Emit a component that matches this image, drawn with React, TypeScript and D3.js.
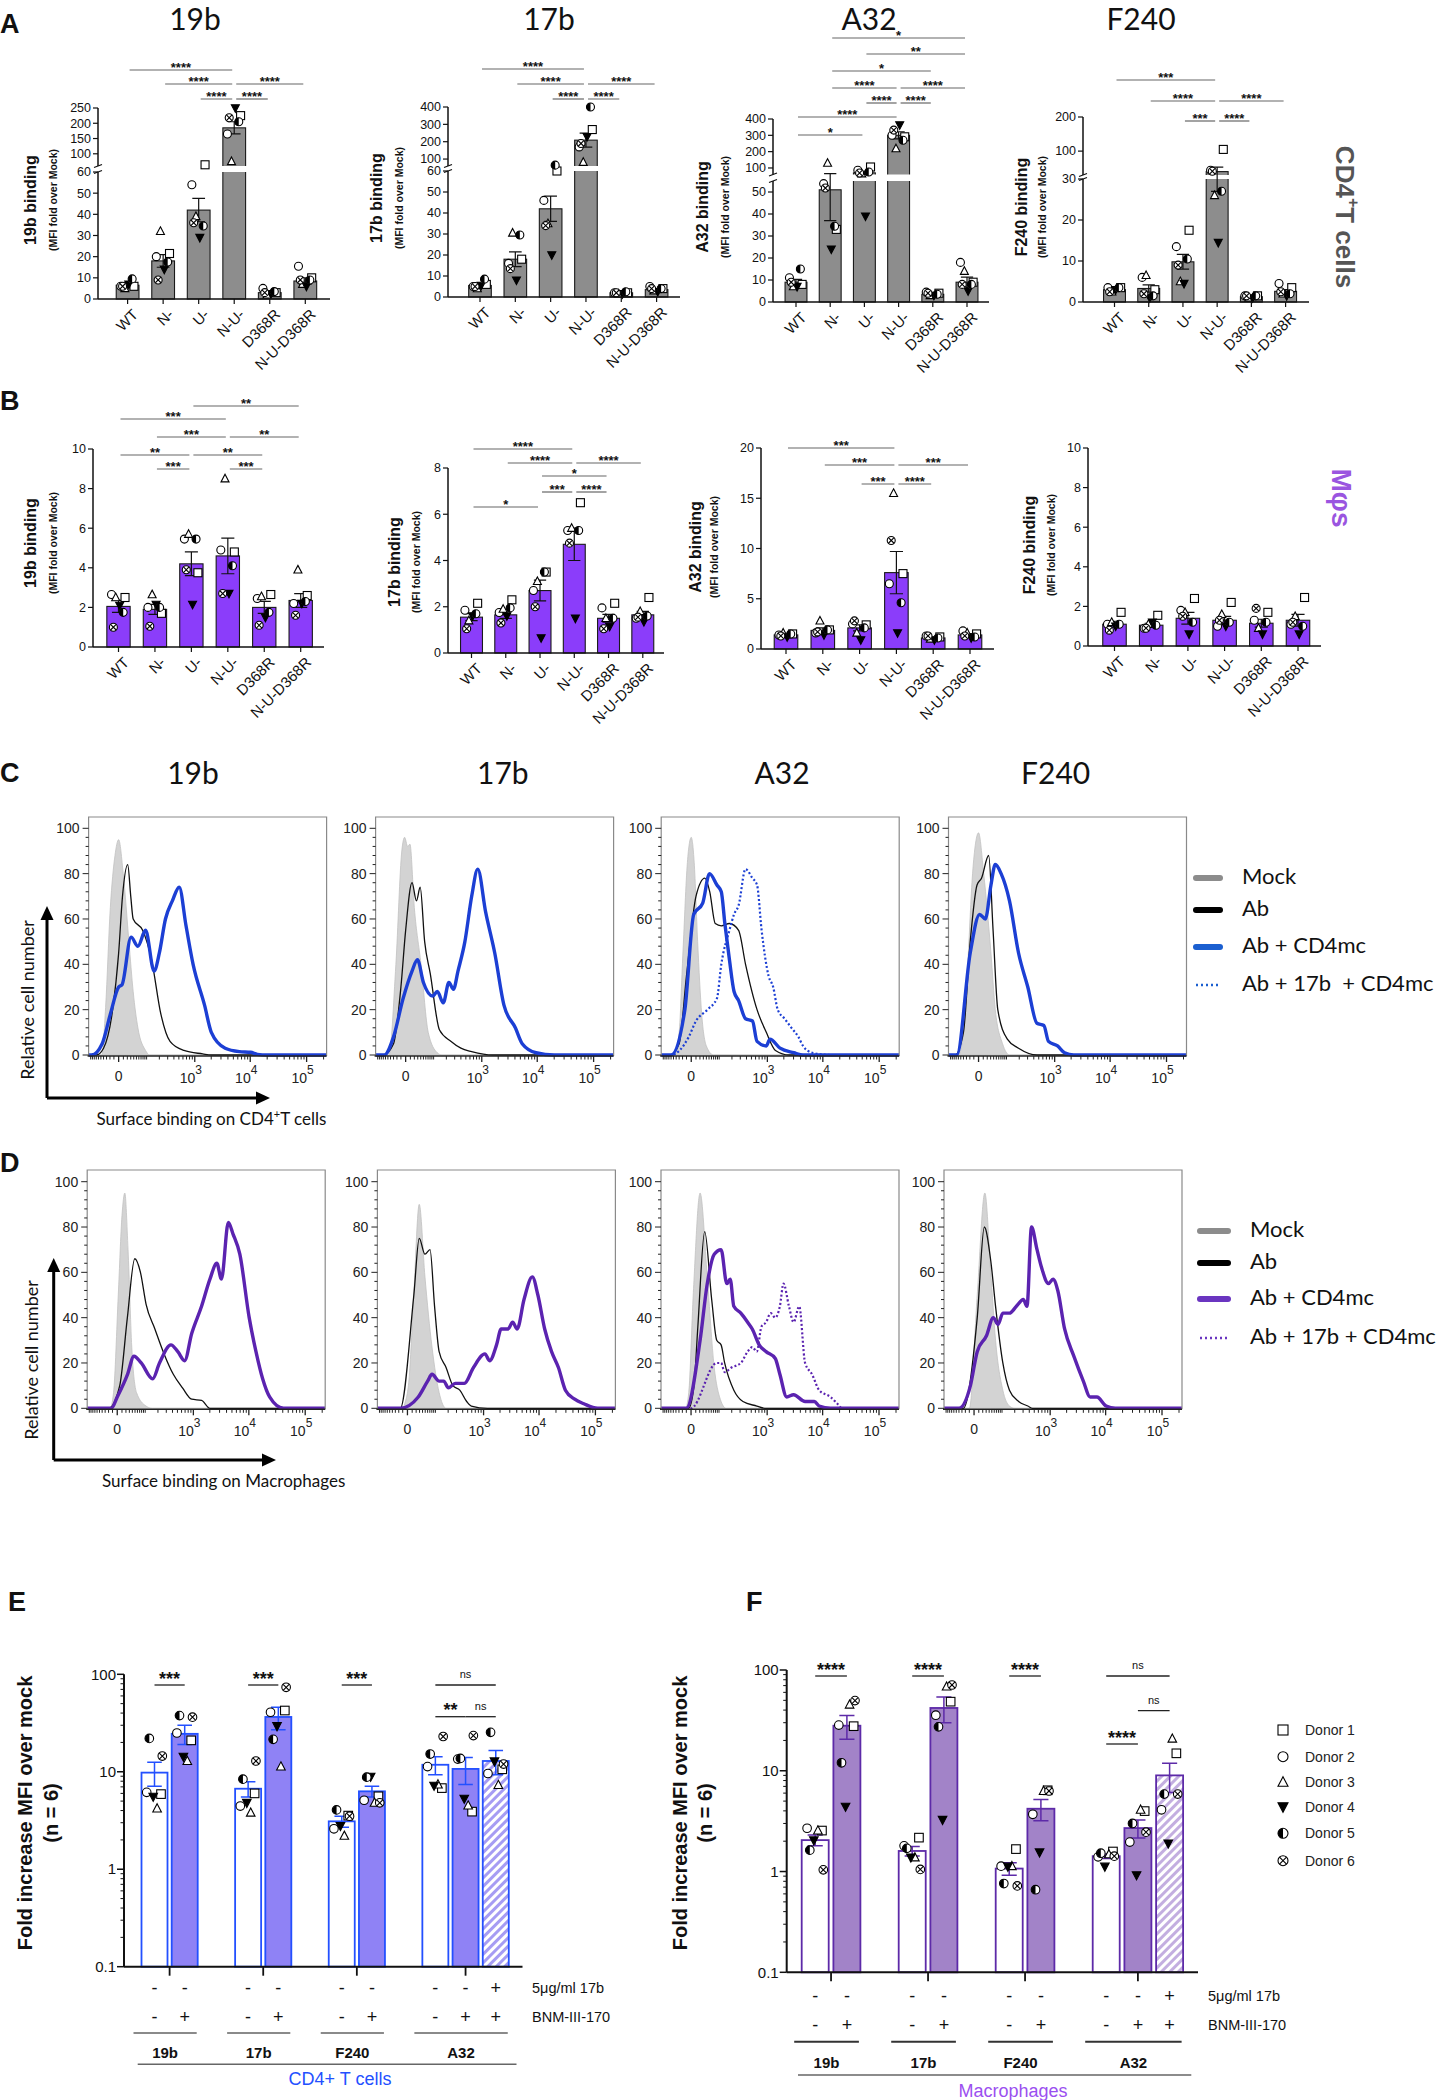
import React from "react";
import * as d3 from "d3";

// ---------------- DATA ----------------
const CONSTRUCTS = ["WT", "N-", "U-", "N-U-", "D368R", "N-U-D368R"];
const ANTIBODIES = ["19b", "17b", "A32", "F240"];
const DONORS = ["Donor 1", "Donor 2", "Donor 3", "Donor 4", "Donor 5", "Donor 6"];
const DONOR_SYMBOLS = ["square", "circle", "triangle", "triangleDown", "halfCircle", "crossCircle"];

// Panel A (CD4+ T cells), mean / SEM / per-donor values per construct
const A_19B_MEAN = [6.5, 18, 42, 185, 3, 8.5];
const A_19B_SEM = [1, 3, 5.5, 20, 0.6, 1.5];
const A_19B_PTS = [
  [6, 6, 5, 7, 9.5, 6],
  [21.5, 20, 32, 14, 17.5, 9],
  [64, 54, 39, 29, 34.5, 36],
  [225, 165, 75, 250, 205, 218],
  [3, 5, 2, 2.5, 3.5, 3],
  [10, 15.5, 7, 6, 9, 9],
];
const A_19B_SIG = [[0, 3, "****", 0], [1, 3, "****", 1], [3, 5, "****", 1], [2, 3, "****", 2], [3, 4, "****", 2]];

const A_17B_MEAN = [5.5, 18, 42, 209, 2, 3.5];
const A_17B_SEM = [1, 3.5, 6, 40, 0.2, 0.5];
const A_17B_PTS = [
  [6, 5, 4, 5.5, 8.5, 5],
  [18, 16, 30.5, 8, 29.5, 13.5],
  [60, 46, 35, 20, 65, 34],
  [270, 170, 82, 229, 400, 190],
  [2, 2, 1.5, 1.5, 2.5, 2],
  [4, 5, 3, 2.5, 4, 4],
];
const A_17B_SIG = [[0, 3, "****", 0], [1, 3, "****", 1], [3, 5, "****", 1], [2, 3, "****", 2], [3, 4, "****", 2]];

const A_A32_MEAN = [9, 51, 70, 300, 3.5, 9];
const A_A32_SEM = [1.3, 14, 9, 22, 0.4, 2.3];
const A_A32_PTS = [
  [8, 11, 7, 7, 15, 9],
  [33, 53.8, 130, 24, 34.4, 51.8],
  [106, 86, 65, 39, 75, 69],
  [291, 300, 219, 363, 270, 332],
  [4, 4.5, 3, 3, 3.5, 4],
  [9, 18, 14, 5, 8, 8],
];
const A_A32_SIG = [
  [1, 5, "*", 0], [2, 5, "**", 1], [1, 4, "*", 2], [1, 3, "****", 3], [3, 5, "****", 3],
  [2, 3, "****", 4], [3, 4, "****", 4], [0, 3, "****", 5], [0, 2, "*", 6],
];

const A_F240_MEAN = [3, 3.3, 9.8, 40, 1.3, 2.6];
const A_F240_SEM = [0.35, 0.9, 1.8, 13, 0.15, 0.4];
const A_F240_PTS = [
  [3.5, 3.5, 2.5, 3, 3.5, 2.5],
  [3, 6, 6.5, 1, 1.5, 2],
  [17.5, 13.5, 5, 4.5, 10.5, 9],
  [105, 44, 26, 14.5, 27, 41],
  [1.5, 1.5, 1, 1, 1.5, 1.5],
  [3.5, 4.5, 2, 1.5, 2, 2.5],
];
const A_F240_SIG = [[0, 3, "***", 0], [1, 3, "****", 1], [3, 5, "****", 1], [2, 3, "***", 2], [3, 4, "****", 2]];

// Panel B (macrophages)
const B_19B_MEAN = [2.05, 1.9, 4.2, 4.6, 2.0, 2.35];
const B_19B_SEM = [0.3, 0.25, 0.6, 0.9, 0.3, 0.35];
const B_19B_PTS = [
  [2.5, 2.65, 2.5, 2.1, 1.75, 1.0],
  [1.7, 2.0, 2.65, 2.15, 2.0, 1.05],
  [3.75, 5.45, 5.7, 2.15, 5.45, 3.9],
  [4.8, 4.9, 8.5, 2.7, 4.1, 2.7],
  [2.65, 2.45, 2.55, 1.5, 1.75, 1.1],
  [2.6, 2.2, 3.9, 2.2, 2.3, 1.6],
];
const B_19B_SIG = [
  [2, 5, "**", 0], [0, 3, "***", 1], [1, 3, "***", 2], [3, 5, "**", 2],
  [0, 2, "**", 3], [2, 4, "**", 3], [1, 2, "***", 4], [3, 4, "***", 4],
];

const B_17B_MEAN = [1.55, 1.65, 2.7, 4.7, 1.5, 1.65];
const B_17B_SEM = [0.15, 0.15, 0.45, 0.7, 0.17, 0.15];
const B_17B_PTS = [
  [2.15, 1.85, 1.4, 1.6, 1.7, 1.05],
  [2.3, 1.75, 1.9, 1.6, 1.95, 1.3],
  [3.5, 2.7, 3.1, 0.65, 3.5, 2.0],
  [6.5, 5.3, 5.4, 1.5, 5.3, 4.75],
  [2.15, 1.95, 1.5, 1.15, 1.5, 1.05],
  [2.4, 1.5, 1.8, 1.35, 1.6, 1.55],
];
const B_17B_SIG = [
  [0, 3, "****", 0], [1, 3, "****", 1], [3, 5, "****", 1], [2, 4, "*", 2],
  [2, 3, "***", 3], [3, 4, "****", 3], [0, 2, "*", 4],
];

const B_A32_MEAN = [1.4, 1.85, 2.1, 7.6, 1.1, 1.4];
const B_A32_SEM = [0.1, 0.25, 0.3, 2.1, 0.07, 0.12];
const B_A32_PTS = [
  [1.5, 1.4, 1.6, 1.2, 1.5, 1.3],
  [1.9, 1.6, 2.8, 1.4, 1.9, 1.7],
  [2.4, 2.5, 1.6, 0.9, 2.1, 2.8],
  [7.5, 6.5, 15.5, 1.6, 4.6, 10.8],
  [1.2, 1.3, 1.0, 0.9, 1.1, 1.3],
  [1.5, 1.8, 1.6, 1.1, 1.2, 1.3],
];
const B_A32_SIG = [[0, 3, "***", 0], [1, 3, "***", 1], [3, 5, "***", 1], [2, 3, "***", 2], [3, 4, "****", 2]];

const B_F240_MEAN = [1.1, 1.05, 1.4, 1.3, 1.15, 1.3];
const B_F240_SEM = [0.15, 0.1, 0.3, 0.2, 0.2, 0.3];
const B_F240_PTS = [
  [1.7, 1.1, 1.2, 1.0, 1.1, 0.8],
  [1.55, 0.9, 1.1, 1.2, 1.05, 0.9],
  [2.4, 1.8, 1.7, 0.6, 1.2, 1.5],
  [2.2, 1.0, 1.6, 1.0, 1.2, 1.3],
  [1.7, 1.3, 0.9, 0.6, 1.2, 1.9],
  [2.45, 1.1, 1.5, 0.6, 1.0, 1.2],
];
const B_F240_SIG: any[] = [];

// Panels C / D: flow histograms, [fluorescence intensity, relative cell number]
const C_19B_MOCK = [[-46, 0], [-33, 21], [-19, 65], [-7.6, 88], [0, 95], [9.7, 80], [24.5, 50], [38, 28], [56, 12], [94, 2], [119, 0]];
const C_19B_AB = [[-70, 0], [-40, 3], [-13, 20], [0, 45], [8, 70], [21, 84], [30, 70], [38, 60], [78, 55], [133, 42], [216, 18], [335, 6], [625, 2], [1400, 0.5], [2000, 0]];
const C_19B_CD4 = [[-95, 0], [-45, 5], [-19, 18], [0, 30], [7, 31], [31, 52], [56, 48], [94, 55], [152, 37], [200, 45], [270, 60], [373, 68], [508, 74], [686, 57], [931, 40], [1513, 22], [2010, 10], [3570, 3], [6400, 1.5], [10150, 1.2], [13400, 0.3], [20000, 0]];

const C_17B_MOCK = [[-46, 0], [-23, 40], [-8, 90], [-2, 96], [4, 92], [9, 93], [20, 65], [41, 40], [71, 10], [124, 1], [160, 0]];
const C_17B_AB = [[-70, 0], [-30, 5], [-10, 30], [0, 55], [14, 76], [26, 68], [38, 74], [55, 50], [81, 36], [140, 11], [253, 6], [400, 3], [647, 1.5], [1570, 0]];
const C_17B_CD4 = [[-65, 0], [-30, 8], [-5, 25], [14, 37], [29, 42], [50, 32], [95, 26], [124, 28], [171, 23], [227, 32], [283, 29], [350, 37], [479, 50], [647, 70], [842, 82], [1180, 63], [1730, 45], [2540, 22], [4070, 12], [5400, 5], [9540, 1], [20000, 0]];

const C_A32_MOCK = [[-46, 0], [-30, 10], [-19, 45], [-8, 85], [0, 96], [6, 85], [14, 50], [25, 18], [40, 4], [70, 0]];
const C_A32_AB = [[-65, 0], [-30, 5], [-10, 35], [10, 70], [35, 78], [53, 72], [78, 58], [113, 57], [176, 58], [277, 55], [383, 40], [640, 20], [955, 10], [1410, 2], [2500, 0]];
const C_A32_CD4 = [[-60, 0], [-14, 20], [5, 62], [28, 67], [52, 80], [87, 75], [113, 72], [138, 58], [176, 42], [222, 28], [277, 24], [383, 16], [523, 15], [640, 6], [955, 4], [1115, 7], [1710, 3], [3030, 1], [4430, 0]];
const C_A32_17B = [[-60, 0], [-5, 8], [10, 15], [44, 20], [87, 25], [113, 40], [176, 55], [222, 62], [277, 66], [383, 82], [523, 78], [640, 75], [781, 55], [1050, 35], [1280, 30], [1550, 20], [2070, 16], [2745, 12], [3660, 8], [4430, 4], [6480, 1], [13800, 0]];

const C_F240_MOCK = [[-60, 0], [-40, 10], [-26, 40], [-13, 80], [0, 98], [11, 80], [31, 45], [46, 20], [78, 5], [120, 0]];
const C_F240_AB = [[-76, 0], [-40, 10], [-19, 50], [-3, 75], [6, 78], [24, 88], [38, 55], [56, 20], [105, 7], [193, 3], [461, 0]];
const C_F240_CD4 = [[-67, 0], [-19, 45], [2, 62], [15, 60], [31, 75], [46, 84], [71, 80], [119, 68], [193, 45], [303, 30], [461, 14], [627, 13], [767, 6], [1130, 4], [1520, 1], [2230, 0]];

const D_19B_MOCK = [[-16, 0], [-7.6, 7], [2, 50], [10, 85], [17, 95], [26, 70], [38, 27], [56, 7], [105, 1], [150, 0]];
const D_19B_AB = [[-20, 0], [5, 10], [24, 40], [49, 66], [74, 60], [105, 46], [171, 35], [270, 24], [415, 15], [625, 9], [931, 4], [1415, 3.5], [2010, 0]];
const D_19B_CD4 = [[-13, 0], [0, 5], [24.5, 15], [46, 23], [78, 20], [152, 13], [216, 20], [373, 28], [508, 25], [686, 21], [931, 33], [1415, 45], [2010, 57], [2680, 64], [3240, 57], [4310, 82], [5210, 77], [6910, 68], [10150, 40], [13400, 25], [17600, 13], [23400, 5], [41200, 0]];

const D_17B_MOCK = [[-10, 0], [-5.5, 2], [3.6, 14], [14, 51], [29, 90], [49, 58], [81, 27], [124, 7], [180, 0]];
const D_17B_AB = [[-16, 0], [14, 50], [29, 75], [49, 68], [71, 70], [95, 45], [124, 25], [180, 18], [253, 10], [350, 8], [479, 3], [587, 1], [1180, 0]];
const D_17B_CD4 = [[-16, 0], [26, 5], [60, 12], [81, 15], [124, 12], [159, 12], [203, 9], [283, 11], [432, 11], [647, 18], [1060, 24], [1290, 21], [1730, 28], [2100, 35], [2790, 35], [3380, 38], [4070, 35], [5400, 48], [7600, 58], [9540, 50], [12600, 35], [16700, 25], [22100, 18], [29400, 8], [43000, 4], [62400, 2], [109500, 0]];

const D_A32_MOCK = [[-12, 0], [-4.6, 7], [4.6, 51], [21, 95], [44, 58], [74, 18], [108, 4], [150, 0]];
const D_A32_AB = [[-5, 0], [6, 10], [15, 36], [35, 78], [62, 48], [87, 30], [113, 28], [138, 20], [222, 8], [343, 3], [640, 1], [900, 0]];
const D_A32_CD4 = [[-10, 0], [21, 30], [44, 55], [74, 68], [113, 70], [155, 55], [185, 57], [222, 45], [311, 42], [425, 38], [523, 35], [709, 28], [955, 25], [1410, 22], [1710, 15], [2280, 5], [3030, 6], [4870, 3], [7120, 3], [8660, 1], [13800, 0]];
const D_A32_17B = [[0, 0], [87, 20], [113, 20], [138, 16], [198, 18], [311, 20], [425, 25], [523, 27], [640, 25], [781, 36], [955, 38], [1160, 42], [1410, 40], [1710, 45], [1990, 55], [2500, 45], [3030, 38], [3820, 45], [4870, 20], [6480, 15], [8660, 8], [13800, 5], [18300, 2], [22000, 0]];

const D_F240_MOCK = [[-10, 0], [6.5, 50], [26, 95], [46, 60], [66, 30], [105, 8], [152, 1], [200, 0]];
const D_F240_AB = [[-26, 0], [6.5, 40], [24.5, 80], [46, 65], [66, 45], [105, 20], [152, 8], [242, 3], [375, 1], [461, 0]];
const D_F240_CD4 = [[-40, 0], [-7.5, 10], [6.5, 25], [31, 32], [56, 40], [78, 37], [105, 42], [152, 42], [217, 45], [303, 48], [360, 45], [442, 80], [566, 70], [692, 62], [932, 55], [1130, 57], [1380, 52], [1840, 35], [2700, 23], [4000, 12], [5300, 5], [7000, 5], [10200, 1], [14900, 0]];

const LEGEND_C = ["Mock", "Ab", "Ab + CD4mc", "Ab + 17b  + CD4mc"];
const LEGEND_D = ["Mock", "Ab", "Ab + CD4mc", "Ab + 17b + CD4mc"];

// Panels E / F
const EF_GROUPS = ["19b", "17b", "F240", "A32"];
const EF_BAR_GROUP = ["19b", "19b", "17b", "17b", "F240", "F240", "A32", "A32", "A32"];
const EF_17B = ["-", "-", "-", "-", "-", "-", "-", "-", "+"];
const EF_BNM = ["-", "+", "-", "+", "-", "+", "-", "+", "+"];

const E_MEAN = [9.8, 24.5, 6.7, 36.5, 3.1, 6.3, 11.8, 10.7, 12.9];
const E_SEM = [2.7, 5.5, 1.2, 9.5, 0.4, 0.8, 2.5, 3.3, 3.6];
const E_PTS = [
  [5.9, 6.15, 4.2, 5.55, 22, 14.5],
  [21, 25, 12.9, 14.3, 37.7, 36.3],
  [6.0, 4.45, 3.8, 4.8, 8.4, 12.9],
  [42.5, 40.8, 11.3, 29.5, 21.5, 73.6],
  [3.55, 2.6, 2.2, 2.78, 4.06, 3.5],
  [5.6, 5.1, 4.8, 8.9, 8.8, 4.8],
  [6.8, 11.3, 7.4, 7.2, 15.2, 23],
  [3.9, 13.5, 4.5, 5.3, 13.7, 23.5],
  [10.6, 9.6, 7.3, 12.8, 25.4, 12],
];
const E_SIG = [[0, 1, "***", 0], [2, 3, "***", 0], [4, 5, "***", 0], [6, 8, "ns", 0], [6, 7, "**", 1], [7, 8, "ns", 1]];

const F_MEAN = [2.05, 28, 1.6, 42, 1.07, 4.2, 1.42, 2.7, 9.0];
const F_SEM = [0.25, 7.4, 0.17, 12, 0.15, 1.0, 0.07, 0.55, 2.9];
const F_PTS = [
  [2.55, 2.69, 2.55, 2.04, 1.63, 1.04],
  [27.7, 28.4, 45.3, 4.4, 12.0, 49.7],
  [2.17, 1.8, 1.38, 1.38, 1.7, 1.05],
  [48.5, 35.6, 68.4, 3.26, 27.3, 71],
  [1.67, 1.13, 1.13, 1.12, 0.76, 0.72],
  [6.4, 3.7, 6.3, 1.55, 0.66, 6.3],
  [1.58, 1.4, 1.48, 1.12, 1.52, 1.42],
  [3.98, 1.96, 4.1, 0.92, 3.0, 2.46],
  [14.9, 4.1, 20.8, 1.9, 5.87, 5.87],
];
const F_SIG = [[0, 1, "****", 0], [2, 3, "****", 0], [4, 5, "****", 0], [6, 8, "ns", 0], [7, 8, "ns", 1], [6, 7, "****", 2]];

// ---------------- STYLE / LAYOUT ----------------
const F_SANS = "'Liberation Sans', Arial, Helvetica, sans-serif";
const F_NARROW = "'Liberation Sans Narrow', 'Arial Narrow', 'Liberation Sans', Arial, sans-serif";
const F_CAL = "Lato, 'Open Sans', 'Noto Sans', sans-serif";

const JITTER_AB = [0.28, -0.3, -0.12, 0.05, 0.2, -0.22];
const JITTER_EF = [0.25, -0.3, 0.1, -0.05, -0.2, 0.3];

const LAYOUT_A: any = {
  "19b": { axisX: 98, axisEnd: 330, c0: 127.6, c5: 305.3, lowerDomain: [0, 60], lowerRange: [299, 172], upperDomain: [60, 250], upperRange: [166, 108], lowerTicks: [0, 10, 20, 30, 40, 50, 60], upperTicks: [100, 150, 200, 250], rows: [70, 84, 99], titleX: 195, ylabX: 30, ysubX: 53, ylabY: 200 },
  "17b": { axisX: 448, axisEnd: 680, c0: 480, c5: 656.6, lowerDomain: [0, 60], lowerRange: [297, 171], upperDomain: [60, 400], upperRange: [166, 107], lowerTicks: [0, 10, 20, 30, 40, 50, 60], upperTicks: [100, 200, 300, 400], rows: [69, 84, 99], titleX: 549, ylabX: 376.5, ysubX: 398.5, ylabY: 198 },
  "A32": { axisX: 773, axisEnd: 989, c0: 796, c5: 967, lowerDomain: [0, 55], lowerRange: [302, 181], upperDomain: [60, 400], upperRange: [174.5, 119], lowerTicks: [0, 10, 20, 30, 40, 50], upperTicks: [100, 200, 300, 400], rows: [38, 54, 71, 88, 103, 117, 135], titleX: 869, ylabX: 702.5, ysubX: 724.6, ylabY: 207 },
  "F240": { axisX: 1083, axisEnd: 1309, c0: 1114.5, c5: 1285.6, lowerDomain: [0, 30], lowerRange: [302, 179], upperDomain: [30, 200], upperRange: [175, 117], lowerTicks: [0, 10, 20, 30], upperTicks: [100, 200], rows: [80, 101, 121], titleX: 1141, ylabX: 1021, ysubX: 1042, ylabY: 207 },
};
const LAYOUT_B: any = {
  "19b": { axisX: 93, axisEnd: 324, c0: 118.5, c5: 300.7, lowerDomain: [0, 10], lowerRange: [647, 449], lowerTicks: [0, 2, 4, 6, 8, 10], rows: [406, 419, 437, 455, 469], ylabX: 30, ysubX: 53, ylabY: 543 },
  "17b": { axisX: 448, axisEnd: 664, c0: 471.5, c5: 642.8, lowerDomain: [0, 8], lowerRange: [653, 468], lowerTicks: [0, 2, 4, 6, 8], rows: [449, 463, 476, 492, 507], ylabX: 394, ysubX: 415.5, ylabY: 562 },
  "A32": { axisX: 761, axisEnd: 994, c0: 786, c5: 970, lowerDomain: [0, 20], lowerRange: [649, 448], lowerTicks: [0, 5, 10, 15, 20], rows: [448, 465, 484], ylabX: 695.6, ysubX: 714, ylabY: 547 },
  "F240": { axisX: 1088, axisEnd: 1321, c0: 1114.5, c5: 1298, lowerDomain: [0, 10], lowerRange: [646, 448], lowerTicks: [0, 2, 4, 6, 8, 10], rows: [], ylabX: 1029, ysubX: 1051, ylabY: 545 },
};

const A_DATA: any = {
  "19b": [A_19B_MEAN, A_19B_SEM, A_19B_PTS, A_19B_SIG],
  "17b": [A_17B_MEAN, A_17B_SEM, A_17B_PTS, A_17B_SIG],
  "A32": [A_A32_MEAN, A_A32_SEM, A_A32_PTS, A_A32_SIG],
  "F240": [A_F240_MEAN, A_F240_SEM, A_F240_PTS, A_F240_SIG],
};
const B_DATA: any = {
  "19b": [B_19B_MEAN, B_19B_SEM, B_19B_PTS, B_19B_SIG],
  "17b": [B_17B_MEAN, B_17B_SEM, B_17B_PTS, B_17B_SIG],
  "A32": [B_A32_MEAN, B_A32_SEM, B_A32_PTS, B_A32_SIG],
  "F240": [B_F240_MEAN, B_F240_SEM, B_F240_PTS, B_F240_SIG],
};

const C_CURVES = [
  { mock: C_19B_MOCK, ab: C_19B_AB, cd4: C_19B_CD4 },
  { mock: C_17B_MOCK, ab: C_17B_AB, cd4: C_17B_CD4 },
  { mock: C_A32_MOCK, ab: C_A32_AB, cd4: C_A32_CD4, dotted: C_A32_17B },
  { mock: C_F240_MOCK, ab: C_F240_AB, cd4: C_F240_CD4 },
];
const D_CURVES = [
  { mock: D_19B_MOCK, ab: D_19B_AB, cd4: D_19B_CD4 },
  { mock: D_17B_MOCK, ab: D_17B_AB, cd4: D_17B_CD4 },
  { mock: D_A32_MOCK, ab: D_A32_AB, cd4: D_A32_CD4, dotted: D_A32_17B },
  { mock: D_F240_MOCK, ab: D_F240_AB, cd4: D_F240_CD4 },
];

const FLOW_W = 238;
const C_LAYOUT = { lefts: [88.6, 375.6, 661.2, 948.5], top: 817, y0: 1055, y100: 828.3, titleXs: [193, 502.8, 782, 1055.7], titleY: 784 };
const D_LAYOUT = { lefts: [87.2, 377.4, 661, 944], top: 1170, y0: 1408.3, y100: 1181.7 };

const E_LAYOUT = { x0: 154.5, slot: 30.2, stride: 3.1, bw: 26, axisX: 124, axisEnd: 522.5, y01: 1966.7, y100: 1674.3, rows: [1685, 1716.7], signY: [1993.5, 2022.5], labelX: 532, underY: 2033, groupY: 2058, bottomY: 2064.3, bottom: [137.7, 516.5], cell: "CD4+ T cells", cellX: 340, cellY: 2085, ylabX: 25, ysubX: 50.5, ylabY: 1813, underColor: "#8a8a8a" };
const F_LAYOUT = { x0: 815.2, slot: 31.7, stride: 3.06, bw: 27, axisX: 786.7, axisEnd: 1198, y01: 1972.3, y100: 1670, rows: [1676, 1710.7, 1744], signY: [2002, 2031], labelX: 1208, underY: 2041.7, groupY: 2068, bottomY: 2075, bottom: [798, 1191.3], cell: "Macrophages", cellX: 1013, cellY: 2097, ylabX: 679.5, ysubX: 704.8, ylabY: 1813, underColor: "#333" };

const TH_E = { stroke: "#2350ff", fill: "#8f82f5", hatch: "hatchE", text: "#2350ff" };
const TH_F = { stroke: "#5d2aa8", fill: "#a283c8", hatch: "hatchF", text: "#9b4ff0" };

// ---------------- COMPONENTS ----------------
function Sym({ kind, x, y, r = 4.2 }: any) {
  const sw = 1.1;
  if (kind === "square") return <rect x={x - r} y={y - r} width={2 * r} height={2 * r} fill="#fff" stroke="#000" strokeWidth={sw} />;
  if (kind === "circle") return <circle cx={x} cy={y} r={r} fill="#fff" stroke="#000" strokeWidth={sw} />;
  if (kind === "triangle") return <path d={`M${x},${y - r * 1.1}L${x + r},${y + r * 0.8}L${x - r},${y + r * 0.8}Z`} fill="#fff" stroke="#000" strokeWidth={sw} />;
  if (kind === "triangleDown") return <path d={`M${x - r},${y - r * 0.8}L${x + r},${y - r * 0.8}L${x},${y + r * 1.1}Z`} fill="#000" stroke="#000" strokeWidth={sw} />;
  if (kind === "halfCircle")
    return (
      <g>
        <circle cx={x} cy={y} r={r} fill="#fff" stroke="#000" strokeWidth={sw} />
        <path d={`M${x},${y - r}A${r},${r} 0 0 0 ${x},${y + r}Z`} fill="#000" />
      </g>
    );
  const k = r * 0.7;
  return (
    <g>
      <circle cx={x} cy={y} r={r} fill="#fff" stroke="#000" strokeWidth={sw} />
      <path d={`M${x - k},${y - k}L${x + k},${y + k}M${x + k},${y - k}L${x - k},${y + k}`} stroke="#000" strokeWidth={sw} />
    </g>
  );
}

function BarPanel({ L, data, fill, name }: any) {
  const [mean, sem, pts, sig] = data;
  const xs = d3.scalePoint<string>().domain(CONSTRUCTS).range([L.c0, L.c5]);
  const bw = xs.step() * 0.64;
  const lower = d3.scaleLinear().domain(L.lowerDomain).range(L.lowerRange);
  const upper = L.upperDomain ? d3.scaleLinear().domain(L.upperDomain).range(L.upperRange) : null;
  const lMax = L.lowerDomain[1];
  const yPos = (v: number) => {
    if (!upper || v <= lMax) return lower(v);
    if (v >= L.upperDomain[0]) return upper(v);
    const t = (v - lMax) / (L.upperDomain[0] - lMax);
    return lower(lMax) + t * (upper(L.upperDomain[0]) - lower(lMax));
  };
  const y0 = lower(0);
  const ax = L.axisX;
  return (
    <g>
      {mean.map((m: number, i: number) => {
        const cx = xs(CONSTRUCTS[i])!;
        return <rect key={"b" + i} x={cx - bw / 2} y={yPos(m)} width={bw} height={y0 - yPos(m)} fill={fill} stroke="#1a1a1a" strokeWidth={1.1} />;
      })}
      {upper && (
        <rect x={ax + 1} y={upper(L.upperDomain[0])} width={L.axisEnd - ax} height={lower(lMax) - upper(L.upperDomain[0])} fill="#fff" />
      )}
      {mean.map((m: number, i: number) => {
        const cx = xs(CONSTRUCTS[i])!;
        const a = yPos(Math.max(0, m - sem[i]));
        const b = yPos(m + sem[i]);
        const c = bw * 0.28;
        return (
          <path key={"e" + i} d={`M${cx},${a}L${cx},${b}M${cx - c},${a}L${cx + c},${a}M${cx - c},${b}L${cx + c},${b}`} stroke="#111" strokeWidth={1.2} fill="none" />
        );
      })}
      {pts.map((row: number[], i: number) =>
        row.map((v, d) => (
          <Sym key={`p${i}-${d}`} kind={DONOR_SYMBOLS[d]} x={xs(CONSTRUCTS[i])! + JITTER_AB[d] * bw} y={yPos(v)} r={4} />
        ))
      )}
      {/* axes */}
      <line x1={ax} x2={L.axisEnd} y1={y0} y2={y0} stroke="#111" strokeWidth={1.5} />
      <line x1={ax} x2={ax} y1={y0} y2={lower(lMax)} stroke="#111" strokeWidth={1.5} />
      {upper && (
        <g>
          <line x1={ax} x2={ax} y1={upper(L.upperDomain[0])} y2={upper(L.upperDomain[1])} stroke="#111" strokeWidth={1.5} />
          <path d={`M${ax - 4},${lower(lMax) + 1.5}L${ax + 4},${lower(lMax) - 1.5}M${ax - 4},${upper(L.upperDomain[0]) + 1.5}L${ax + 4},${upper(L.upperDomain[0]) - 1.5}`} stroke="#111" strokeWidth={1.3} />
        </g>
      )}
      {L.lowerTicks.map((t: number) => (
        <g key={"lt" + t}>
          <line x1={ax - 5} x2={ax} y1={lower(t)} y2={lower(t)} stroke="#111" strokeWidth={1.2} />
          <text x={ax - 7} y={lower(t)} dy="0.35em" textAnchor="end" fontSize={12.5} fontFamily={F_SANS} fill="#111">{t}</text>
        </g>
      ))}
      {upper && L.upperTicks.map((t: number) => (
        <g key={"ut" + t}>
          <line x1={ax - 5} x2={ax} y1={upper(t)} y2={upper(t)} stroke="#111" strokeWidth={1.2} />
          <text x={ax - 7} y={upper(t)} dy="0.35em" textAnchor="end" fontSize={12.5} fontFamily={F_SANS} fill="#111">{t}</text>
        </g>
      ))}
      {CONSTRUCTS.map((c) => (
        <g key={"x" + c}>
          <line x1={xs(c)} x2={xs(c)} y1={y0} y2={y0 + 5} stroke="#111" strokeWidth={1.2} />
          <text transform={`translate(${xs(c)! + 4},${y0 + 9}) rotate(-45)`} textAnchor="end" dy="0.7em" fontSize={15} fontFamily={F_SANS} fill="#111">{c}</text>
        </g>
      ))}
      {sig.map((s: any, k: number) => {
        const x1 = xs(CONSTRUCTS[s[0]])! + 2;
        const x2 = xs(CONSTRUCTS[s[1]])! - 2;
        const y = L.rows[s[3]];
        return (
          <g key={"s" + k}>
            <line x1={x1} x2={x2} y1={y} y2={y} stroke="#666" strokeWidth={1.2} />
            <text x={(x1 + x2) / 2} y={y + 2} textAnchor="middle" fontSize={13} fontWeight="bold" fontFamily={F_SANS} fill="#111">{s[2]}</text>
          </g>
        );
      })}
      <text transform={`translate(${L.ylabX},${L.ylabY}) rotate(-90)`} textAnchor="middle" dominantBaseline="central" fontSize={16} fontWeight="bold" fontFamily={F_SANS} fill="#111">{name} binding</text>
      <text transform={`translate(${L.ysubX},${L.ylabY}) rotate(-90)`} textAnchor="middle" dominantBaseline="central" fontSize={10.5} fontWeight="bold" fontFamily={F_SANS} fill="#111">(MFI fold over Mock)</text>
    </g>
  );
}

const FLOW_MINOR = [
  -100, -90, -80, -70, -60, -50, -40, -30, -20, -10, 10, 20, 30, 40, 50, 60, 70, 80, 90,
  100, 200, 300, 400, 500, 600, 700, 800, 900, 2000, 3000, 4000, 5000, 6000, 7000, 8000, 9000,
  20000, 30000, 40000, 50000, 60000, 70000, 80000, 90000, 200000,
];
const FLOW_MAJOR = [0, 1000, 10000, 100000];

function FlowPlot({ left, top, y0, y100, curves, color }: any) {
  const right = left + FLOW_W;
  const x = d3.scaleSymlog().constant(47).domain([-113, 226000]).range([left, right]);
  const y = d3.scaleLinear().domain([0, 100]).range([y0, y100]);
  const ext = (a: number[][]) => [[-113, 0], ...a, [226000, 0]] as [number, number][];
  const line = d3.line<[number, number]>().x((d) => x(d[0])).y((d) => y(d[1])).curve(d3.curveMonotoneX);
  const area = d3.area<[number, number]>().x((d) => x(d[0])).y0(y(0)).y1((d) => y(d[1])).curve(d3.curveMonotoneX);
  const id = `fc${Math.round(left)}_${Math.round(top)}`;
  const yMinor = d3.range(0, 101, 4);
  return (
    <g>
      <defs>
        <clipPath id={id}>
          <rect x={left} y={top} width={FLOW_W} height={y0 - top + 3} />
        </clipPath>
      </defs>
      <g clipPath={`url(#${id})`}>
        <path d={area(ext(curves.mock))!} fill="#d3d3d3" stroke="#c2c2c2" strokeWidth={0.8} />
        <path d={line(ext(curves.ab))!} fill="none" stroke="#111" strokeWidth={1.3} />
        {curves.dotted && <path d={line(ext(curves.dotted))!} fill="none" stroke={color} strokeWidth={2.2} strokeDasharray="2,2.2" />}
        <path d={line(ext(curves.cd4))!} fill="none" stroke={color} strokeWidth={3.4} strokeLinejoin="round" />
      </g>
      <path d={`M${left},${y0 + 1}L${left},${top}L${right},${top}L${right},${y0 + 1}`} fill="none" stroke="#8a8a8a" strokeWidth={1.2} />
      <line x1={left - 1} x2={right} y1={y0 + 1} y2={y0 + 1} stroke="#222" strokeWidth={1.6} />
      {yMinor.map((t) => (
        <line key={"ym" + t} x1={left - (t % 20 === 0 ? 6 : 3)} x2={left} y1={y(t)} y2={y(t)} stroke="#222" strokeWidth={1} />
      ))}
      {[0, 20, 40, 60, 80, 100].map((t) => (
        <text key={"yl" + t} x={left - 9} y={y(t)} dy="0.35em" textAnchor="end" fontSize={14} fontFamily={F_NARROW} fill="#222">{t}</text>
      ))}
      {FLOW_MINOR.map((t) => (
        <line key={"xm" + t} x1={x(t)} x2={x(t)} y1={y0 + 1} y2={y0 + 4.5} stroke="#222" strokeWidth={1} />
      ))}
      {FLOW_MAJOR.map((t) => (
        <line key={"xM" + t} x1={x(t)} x2={x(t)} y1={y0 + 1} y2={y0 + 7} stroke="#222" strokeWidth={1.3} />
      ))}
      {FLOW_MAJOR.map((t, i) =>
        t === 0 ? (
          <text key={"xl" + t} x={x(t)} y={y0 + 26} textAnchor="middle" fontSize={14} fontFamily={F_NARROW} fill="#222">0</text>
        ) : (
          <text key={"xl" + t} x={x(t) - 4} y={y0 + 28} textAnchor="middle" fontSize={14} fontFamily={F_NARROW} fill="#222">
            10<tspan dy={-9} fontSize={12}>{i + 2}</tspan>
          </text>
        )
      )}
    </g>
  );
}

function FlowLegend({ x1, x2, tx, rows, labels, color }: any) {
  const styles = [
    { stroke: "#8c8c8c", w: 6, dash: undefined },
    { stroke: "#000", w: 6, dash: undefined },
    { stroke: color, w: 6, dash: undefined },
    { stroke: color, w: 2.6, dash: "2,3" },
  ];
  return (
    <g>
      {labels.map((l: string, i: number) => (
        <g key={l}>
          <line x1={x1} x2={x2} y1={rows[i]} y2={rows[i]} stroke={styles[i].stroke} strokeWidth={styles[i].w} strokeLinecap={styles[i].dash ? "butt" : "round"} strokeDasharray={styles[i].dash} />
          <text x={tx} y={rows[i] - 3} dominantBaseline="central" fontSize={22} fontFamily={F_CAL} fill="#111" style={{ whiteSpace: "pre" }}>{l}</text>
        </g>
      ))}
    </g>
  );
}

function Arrows({ vx, yb, yt, hx }: any) {
  return (
    <g>
      <path d={`M${vx},${yb}L${vx},${yt + 10}M${vx},${yb}L${hx - 10},${yb}`} stroke="#000" strokeWidth={3} fill="none" />
      <path d={`M${vx - 6.5},${yt + 14}L${vx},${yt}L${vx + 6.5},${yt + 14}Z`} fill="#000" />
      <path d={`M${hx - 14},${yb - 6.5}L${hx},${yb}L${hx - 14},${yb + 6.5}Z`} fill="#000" />
    </g>
  );
}

function LogBarPanel({ L, mean, sem, pts, sig, th }: any) {
  const y = d3.scaleLog().domain([0.1, 100]).range([L.y01, L.y100]);
  const slot = d3.scaleLinear().domain([0, 1]).range([L.x0, L.x0 + L.slot]);
  const within = EF_BAR_GROUP.map((g, i) => EF_BAR_GROUP.slice(0, i).filter((h) => h === g).length);
  const cx = EF_BAR_GROUP.map((g, i) => slot(EF_GROUPS.indexOf(g) * L.stride + within[i]));
  const bw = L.bw;
  const y0 = y(0.1);
  const majors = [0.1, 1, 10, 100];
  const minors: number[] = [];
  [0.1, 1, 10].forEach((d) => d3.range(2, 10).forEach((k) => minors.push(k * d)));
  const groups = EF_GROUPS.map((g) => {
    const idx = EF_BAR_GROUP.map((h, i) => (h === g ? i : -1)).filter((i) => i >= 0);
    const a = cx[idx[0]], b = cx[idx[idx.length - 1]];
    return { g, a, b, mid: (a + b) / 2 };
  });
  return (
    <g>
      {mean.map((m: number, i: number) => {
        const f = EF_17B[i] === "+" ? `url(#${th.hatch})` : EF_BNM[i] === "+" ? th.fill : "#fff";
        return <rect key={"b" + i} x={cx[i] - bw / 2} y={y(m)} width={bw} height={y0 - y(m)} fill={f} stroke={th.stroke} strokeWidth={1.8} />;
      })}
      {mean.map((m: number, i: number) => {
        const a = y(m - sem[i]);
        const b = y(m + sem[i]);
        const c = bw * 0.28;
        return <path key={"e" + i} d={`M${cx[i]},${a}L${cx[i]},${b}M${cx[i] - c},${b}L${cx[i] + c},${b}M${cx[i] - c},${a}L${cx[i] + c},${a}`} stroke={th.stroke} strokeWidth={1.5} fill="none" />;
      })}
      {pts.map((row: number[], i: number) =>
        row.map((v, d) => <Sym key={`p${i}-${d}`} kind={DONOR_SYMBOLS[d]} x={cx[i] + JITTER_EF[d] * bw} y={y(v)} r={4.3} />)
      )}
      <line x1={L.axisX} x2={L.axisEnd} y1={y0} y2={y0} stroke="#111" strokeWidth={2} />
      <line x1={L.axisX} x2={L.axisX} y1={y0} y2={y(100)} stroke="#111" strokeWidth={2} />
      {minors.map((t) => <line key={"m" + t} x1={L.axisX - 3.5} x2={L.axisX} y1={y(t)} y2={y(t)} stroke="#111" strokeWidth={1} />)}
      {majors.map((t) => (
        <g key={"M" + t}>
          <line x1={L.axisX - 7} x2={L.axisX} y1={y(t)} y2={y(t)} stroke="#111" strokeWidth={1.5} />
          <text x={L.axisX - 8} y={y(t)} dy="0.35em" textAnchor="end" fontSize={15} fontFamily={F_NARROW} fill="#111">{t}</text>
        </g>
      ))}
      {groups.map((g) => (
        <line key={"gt" + g.g} x1={g.mid} x2={g.mid} y1={y0} y2={y0 + 9} stroke="#111" strokeWidth={1.8} />
      ))}
      {sig.map((s: any, k: number) => {
        const x1 = cx[s[0]], x2 = cx[s[1]];
        const yy = L.rows[s[3]];
        const ns = s[2] === "ns";
        return (
          <g key={"s" + k}>
            <line x1={x1} x2={x2} y1={yy} y2={yy} stroke="#222" strokeWidth={1.3} />
            <text x={(x1 + x2) / 2} y={ns ? yy - 7 : yy - 0.5} textAnchor="middle" fontSize={ns ? 11 : 18} fontWeight={ns ? "normal" : "bold"} fontFamily={F_SANS} fill="#111">{s[2]}</text>
          </g>
        );
      })}
      {EF_17B.map((s, i) => (
        <text key={"r1" + i} x={cx[i]} y={L.signY[0]} textAnchor="middle" fontSize={18} fontFamily={F_SANS} fill="#111">{s}</text>
      ))}
      {EF_BNM.map((s, i) => (
        <text key={"r2" + i} x={cx[i]} y={L.signY[1]} textAnchor="middle" fontSize={18} fontFamily={F_SANS} fill="#111">{s}</text>
      ))}
      <text x={L.labelX} y={L.signY[0] - 1} fontSize={14.5} fontFamily={F_NARROW} fill="#111">5μg/ml 17b</text>
      <text x={L.labelX} y={L.signY[1] - 1} fontSize={14.5} fontFamily={F_NARROW} fill="#111">BNM-III-170</text>
      {groups.map((g) => (
        <g key={"gl" + g.g}>
          <line x1={g.a - 21} x2={g.b + 12} y1={L.underY} y2={L.underY} stroke={L.underColor} strokeWidth={2} />
          <text x={(g.a - 21 + g.b + 12) / 2} y={L.groupY} textAnchor="middle" fontSize={15} fontWeight="bold" fontFamily={F_NARROW} fill="#111">{g.g}</text>
        </g>
      ))}
      <line x1={L.bottom[0]} x2={L.bottom[1]} y1={L.bottomY} y2={L.bottomY} stroke="#666" strokeWidth={1.5} />
      <text x={L.cellX} y={L.cellY} textAnchor="middle" fontSize={18} fontFamily={F_NARROW} fill={th.text}>{L.cell}</text>
      <text transform={`translate(${L.ylabX},${L.ylabY}) rotate(-90)`} textAnchor="middle" dominantBaseline="central" fontSize={20} fontWeight="bold" fontFamily={F_SANS} fill="#111">Fold increase MFI over mock</text>
      <text transform={`translate(${L.ysubX},${L.ylabY}) rotate(-90)`} textAnchor="middle" dominantBaseline="central" fontSize={20} fontWeight="bold" fontFamily={F_SANS} fill="#111">(n = 6)</text>
    </g>
  );
}

export default function App() {
  const blue = "#1c3fd4";
  const purple = "#5b23b0";
  return (
    <svg width={1441} height={2100} style={{ position: "absolute", left: 0, top: 0 }} fontFamily={F_SANS}>
      <rect width={1441} height={2100} fill="#fff" />
      <defs>
        <pattern id="hatchE" patternUnits="userSpaceOnUse" width={6} height={6} patternTransform="rotate(45)">
          <rect width={6} height={6} fill="#fff" />
          <line x1={1.5} y1={0} x2={1.5} y2={6} stroke="#a69cf3" strokeWidth={3} />
        </pattern>
        <pattern id="hatchF" patternUnits="userSpaceOnUse" width={6} height={6} patternTransform="rotate(45)">
          <rect width={6} height={6} fill="#fff" />
          <line x1={1.5} y1={0} x2={1.5} y2={6} stroke="#c3aee0" strokeWidth={3} />
        </pattern>
      </defs>

      {/* Panel letters */}
      {[["A", 0, 33], ["B", 0, 410], ["C", 0, 782], ["D", 0, 1172], ["E", 8, 1611], ["F", 746, 1611]].map(([t, x, y]: any) => (
        <text key={t} x={x} y={y} fontSize={27} fontWeight="bold" fontFamily={F_SANS} fill="#111">{t}</text>
      ))}

      {/* Panel A */}
      {ANTIBODIES.map((ab) => (
        <g key={"A" + ab}>
          <text x={LAYOUT_A[ab].titleX} y={30} textAnchor="middle" fontSize={30} fontFamily={F_CAL} fill="#111">{ab}</text>
          <BarPanel L={LAYOUT_A[ab]} data={A_DATA[ab]} fill="#8d8d8d" name={ab} />
        </g>
      ))}
      <text transform="translate(1345,217) rotate(90)" textAnchor="middle" dominantBaseline="central" fontSize={26} fontWeight="bold" fontFamily={F_SANS} fill="#555">
        CD4<tspan dy={-9} fontSize={16}>+</tspan><tspan dy={9}>T cells</tspan>
      </text>

      {/* Panel B */}
      {ANTIBODIES.map((ab) => (
        <BarPanel key={"B" + ab} L={LAYOUT_B[ab]} data={B_DATA[ab]} fill="#8b3dfa" name={ab} />
      ))}
      <text transform="translate(1341,498) rotate(90)" textAnchor="middle" dominantBaseline="central" fontSize={28} fontWeight="bold" fontFamily={F_SANS} fill="#9a55e0">Mφs</text>

      {/* Panel C */}
      {ANTIBODIES.map((ab, i) => (
        <g key={"C" + ab}>
          <text x={C_LAYOUT.titleXs[i]} y={C_LAYOUT.titleY} textAnchor="middle" fontSize={30} fontFamily={F_CAL} fill="#111">{ab}</text>
          <FlowPlot left={C_LAYOUT.lefts[i]} top={C_LAYOUT.top} y0={C_LAYOUT.y0} y100={C_LAYOUT.y100} curves={C_CURVES[i]} color={blue} />
        </g>
      ))}
      <Arrows vx={47} yb={1098} yt={906} hx={270} />
      <text transform="translate(26.6,1000) rotate(-90)" textAnchor="middle" dominantBaseline="central" fontSize={18} fontFamily={F_CAL} fill="#111">Relative cell number</text>
      <text x={96.4} y={1125} fontSize={17} fontFamily={F_CAL} fill="#111">
        Surface binding on CD4<tspan dy={-7} fontSize={11}>+</tspan><tspan dy={7}>T cells</tspan>
      </text>
      <FlowLegend x1={1196} x2={1220} tx={1242} rows={[878, 910, 947, 985]} labels={LEGEND_C} color="#1b5fd0" />

      {/* Panel D */}
      {ANTIBODIES.map((ab, i) => (
        <FlowPlot key={"D" + ab} left={D_LAYOUT.lefts[i]} top={D_LAYOUT.top} y0={D_LAYOUT.y0} y100={D_LAYOUT.y100} curves={D_CURVES[i]} color={purple} />
      ))}
      <Arrows vx={53.7} yb={1460} yt={1258} hx={276} />
      <text transform="translate(31,1360) rotate(-90)" textAnchor="middle" dominantBaseline="central" fontSize={18} fontFamily={F_CAL} fill="#111">Relative cell number</text>
      <text x={102} y={1487} fontSize={17} fontFamily={F_CAL} fill="#111">Surface binding on Macrophages</text>
      <FlowLegend x1={1200} x2={1228} tx={1250} rows={[1231, 1263, 1299, 1338]} labels={LEGEND_D} color="#6a35c0" />

      {/* Panels E and F */}
      <LogBarPanel L={E_LAYOUT} mean={E_MEAN} sem={E_SEM} pts={E_PTS} sig={E_SIG} th={TH_E} />
      <LogBarPanel L={F_LAYOUT} mean={F_MEAN} sem={F_SEM} pts={F_PTS} sig={F_SIG} th={TH_F} />

      {/* Donor legend */}
      {DONORS.map((d, i) => {
        const ys = [1730, 1756.7, 1782.3, 1806.7, 1833.3, 1860.7];
        return (
          <g key={d}>
            <Sym kind={DONOR_SYMBOLS[i]} x={1283} y={ys[i]} r={5} />
            <text x={1305} y={ys[i]} dy="0.35em" fontSize={14} fontFamily={F_NARROW} fill="#222">{d}</text>
          </g>
        );
      })}
    </svg>
  );
}
